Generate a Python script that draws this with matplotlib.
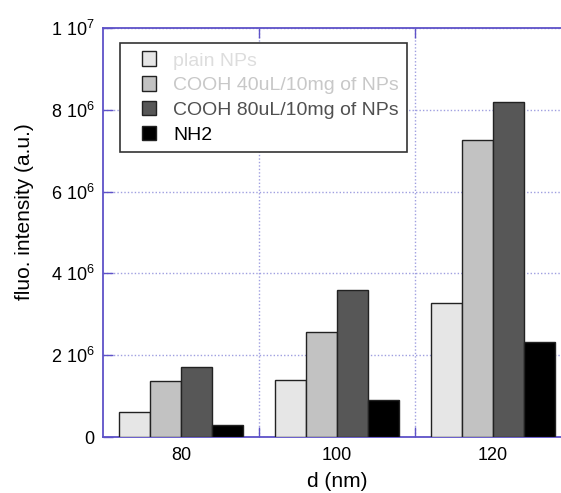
import matplotlib
matplotlib.use("Agg")
import matplotlib.pyplot as plt
from matplotlib.patches import Rectangle
from matplotlib.legend_handler import HandlerPatch
import numpy as np

diameters = [80, 100, 120]
series_names = ["plain NPs", "COOH 40uL/10mg of NPs", "COOH 80uL/10mg of NPs", "NH2"]
plain = [0.62e6, 1.39e6, 3.28e6]
cooh40 = [1.37e6, 2.57e6, 7.27e6]
cooh80 = [1.70e6, 3.60e6, 8.20e6]
nh2 = [0.29e6, 0.90e6, 2.32e6]
y_tick_values = [0, 2e6, 4e6, 6e6, 8e6, 1e7]
y_tick_labels = ["0", r"2 10$^{6}$", r"4 10$^{6}$", r"6 10$^{6}$", r"8 10$^{6}$", r"1 10$^{7}$"]

plt.rcParams['font.family'] = ['Liberation Sans', 'DejaVu Sans']
plt.rcParams['mathtext.fontset'] = 'custom'
plt.rcParams['mathtext.rm'] = 'Liberation Sans'

fill_colors = ["#e6e6e6", "#c2c2c2", "#575757", "#000000"]
text_colors = ["#dddddd", "#c8c8c8", "#505050", "#000000"]
spine_color = "#5e52c8"
grid_color = "#9f9fe0"

fig = plt.figure(figsize=(5.61, 4.93), dpi=100)
ax = fig.add_axes([103/561, 56/493, 468/561, 409/493])

bar_w = 4
offsets = [-6, -2, 2, 6]
x = np.array(diameters, dtype=float)
handles = []
for vals, off, fc, name in zip([plain, cooh40, cooh80, nh2], offsets, fill_colors, series_names):
    h = ax.bar(x + off, vals, width=bar_w, color=fc, edgecolor="#222222", linewidth=1.0,
               label=name, zorder=3)
    handles.append(h.patches[0])

ax.set_xlim(70, 130)
ax.set_ylim(0, 1e7)
ax.set_yticks(y_tick_values)
ax.set_yticklabels(y_tick_labels, fontsize=13)
ax.set_xticks([90, 110])
ax.set_xticklabels([])
ax.set_xticks(diameters, minor=True)
ax.set_xticklabels([str(d) for d in diameters], minor=True, fontsize=13)

ax.tick_params(axis='x', which='major', direction='in', length=7, color=spine_color,
               top=True, bottom=True, width=1)
ax.tick_params(axis='x', which='minor', length=0, pad=7)
ax.tick_params(axis='y', which='major', direction='in', length=7, color=spine_color,
               left=True, right=True, width=1, pad=6)

ax.grid(True, which='major', linestyle=(0, (1, 1.5)), color=grid_color, linewidth=1.0, zorder=0)
ax.set_axisbelow(True)
for s in ax.spines.values():
    s.set_color(spine_color)
    s.set_linewidth(1.3)

ax.set_xlabel("d (nm)", fontsize=15, labelpad=6)
ax.set_ylabel("fluo. intensity (a.u.)", fontsize=15)
ax.yaxis.set_label_coords(-0.148, 0.55)


def square_patch(legend, orig_handle, xdescent, ydescent, width, height, fontsize):
    side = height
    return Rectangle((-xdescent + width - side, -ydescent), side, side)


leg = ax.legend(handles=handles, labels=series_names, loc='upper left',
                bbox_to_anchor=(0.036, 0.963), fontsize=14, frameon=True, fancybox=False,
                edgecolor="#333333", framealpha=1.0, handlelength=1.45, handleheight=0.78,
                handletextpad=0.85, labelspacing=0.34, borderpad=0.43, borderaxespad=0,
                handler_map={Rectangle: HandlerPatch(patch_func=square_patch)})
leg.get_frame().set_linewidth(1.2)
for t, c in zip(leg.get_texts(), text_colors):
    t.set_color(c)
leg.set_zorder(5)

fig.savefig("out.png", dpi=100)
